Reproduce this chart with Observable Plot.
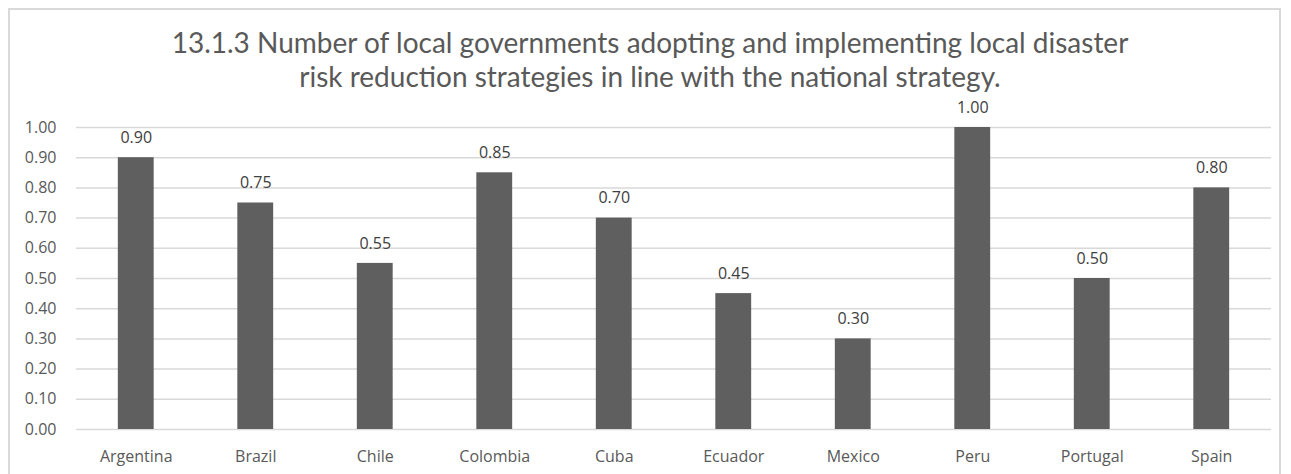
<!DOCTYPE html>
<html>
<head>
<meta charset="utf-8">
<script src="https://cdn.jsdelivr.net/npm/d3@7"></script>
<script src="https://cdn.jsdelivr.net/npm/@observablehq/plot@0.6"></script>
<style>
  html, body { margin: 0; padding: 0; background: #fff; }
  body { width: 1291px; height: 474px; position: relative; overflow: hidden; font-family: Lato, "Open Sans", sans-serif; }
  #frame { position: absolute; left: 8px; top: 8px; width: 1273px; height: 490px; border: 2px solid #d9d9d9; box-sizing: border-box; }
  #wrap { position: absolute; left: 0; top: 0; width: 1291px; }
  #title { height: 90px; box-sizing: border-box; padding-top: 25px; text-align: center; color: #595959; font-size: 28px; line-height: 34px; padding-left: 9px; white-space: nowrap; }
  #chart svg { overflow: visible; }
</style>
</head>
<body>
<div id="frame"></div>
<div id="wrap">
  <div id="title">13.1.3 Number of local governments adopting and implementing local disaster<br>risk reduction strategies in line with the national strategy.</div>
  <div id="chart"></div>
</div>
<script>
const countries = ["Argentina", "Brazil", "Chile", "Colombia", "Cuba", "Ecuador", "Mexico", "Peru", "Portugal", "Spain"];
const values = [0.90, 0.75, 0.55, 0.85, 0.70, 0.45, 0.30, 1.00, 0.50, 0.80];
const yTicks = [0, 0.1, 0.2, 0.3, 0.4, 0.5, 0.6, 0.7, 0.8, 0.9, 1.0];

const data = countries.map((c, i) => ({country: c, value: values[i]}));

const chart = Plot.plot({
  width: 1291,
  height: 384,
  marginTop: 37,
  marginBottom: 45,
  marginLeft: 76,
  marginRight: 20,
  style: {background: "transparent", color: "#595959", fontFamily: "'Open Sans', sans-serif", fontSize: "16px", overflow: "visible"},
  x: {domain: countries, paddingInner: 0.7, paddingOuter: 0.35, round: false, label: null, tickSize: 0, tickPadding: 21},
  y: {domain: [0, 1], ticks: yTicks, tickFormat: d => d.toFixed(2), label: null, tickSize: 0, tickPadding: 20},
  marks: [
    Plot.ruleY(yTicks, {stroke: "#d9d9d9", strokeWidth: 1.5}),
    Plot.barY(data, {x: "country", y: "value", fill: "#5f5f5f"}),
    Plot.text(data, {x: "country", y: "value", text: d => d.value.toFixed(2), dy: -20, fill: "#404040", fontSize: 16})
  ]
});
document.getElementById("chart").appendChild(chart);
</script>
</body>
</html>
